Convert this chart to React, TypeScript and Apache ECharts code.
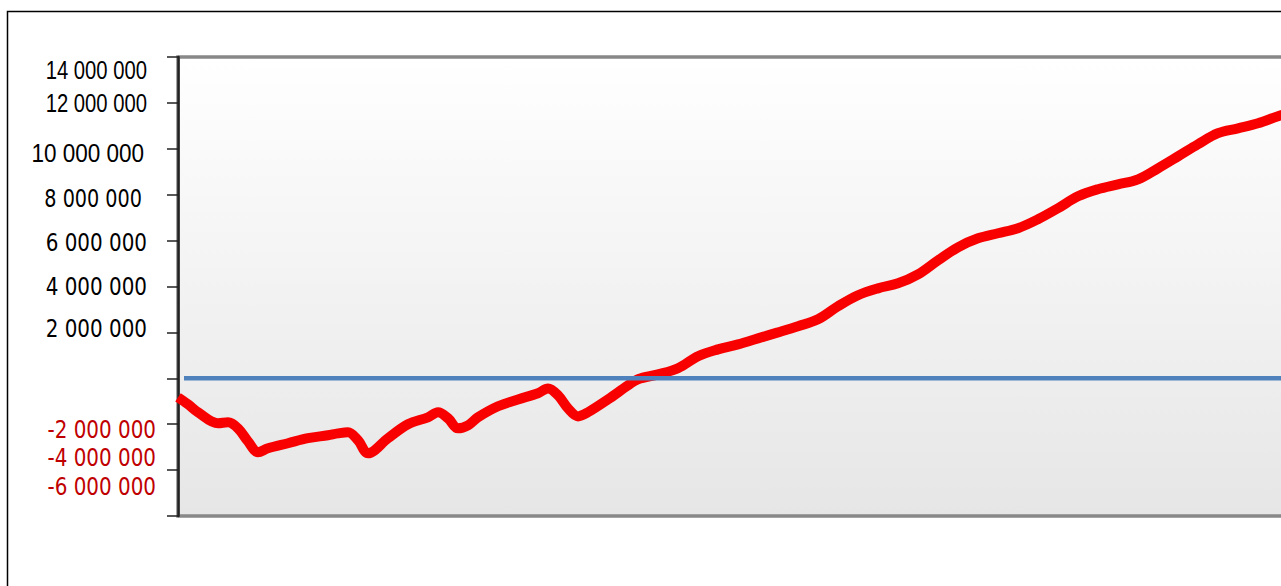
import React, { useEffect, useRef } from "react";
import * as echarts from "echarts";

// Period index (x) and cumulative balance (y)
const PERIODS = [
  0, 1, 2, 4, 5, 6, 7, 8, 9, 11, 13, 15, 16, 17, 18, 19, 21, 23, 25, 26, 27, 28, 29, 30,
  32, 34, 36, 37, 38, 39, 40, 41, 43, 45, 46, 48, 50, 52, 54, 56, 58, 60, 62, 64, 66, 68,
  70, 72, 74, 76, 78, 80, 82, 84, 86, 88, 90, 92, 94, 96, 98, 100, 102, 104, 106, 108, 110, 112,
];
const BALANCE = [
  -830000, -1130000, -1480000, -1960000, -1920000, -2180000, -2750000, -3220000, -3050000,
  -2830000, -2610000, -2480000, -2400000, -2350000, -2700000, -3270000, -2610000, -2000000,
  -1700000, -1480000, -1740000, -2180000, -2050000, -1700000, -1220000, -920000, -650000,
  -440000, -740000, -1310000, -1660000, -1480000, -920000, -310000, -40000, 170000, 440000,
  960000, 1260000, 1480000, 1740000, 2000000, 2270000, 2570000, 3140000, 3620000, 3920000,
  4140000, 4530000, 5140000, 5710000, 6100000, 6320000, 6540000, 6930000, 7410000, 7930000,
  8240000, 8450000, 8670000, 9150000, 9670000, 10200000, 10680000, 10890000, 11110000,
  11420000, 11680000,
];
const ZERO_PERIODS = [0.6, 112];
const ZERO_VALUES = [0, 0];
const TICK_VALUES = [
  14000000, 12000000, 10000000, 8000000, 6000000, 4000000, 2000000, -2000000, -4000000, -6000000,
];

// label styling (not data)
const ARIAL = "'Liberation Sans', Arial, sans-serif";
const DEJA = "'DejaVu Sans', sans-serif";
type LS = { font: string; size: number; sx: number; right: number; dy: number; color: string };
const LABEL_STYLE: Record<number, LS> = {
  14000000: { font: ARIAL, size: 25, sx: 0.81, right: 147, dy: 13, color: "#000" },
  12000000: { font: ARIAL, size: 25, sx: 0.81, right: 147, dy: 0, color: "#000" },
  10000000: { font: ARIAL, size: 25, sx: 0.9, right: 144, dy: 4, color: "#000" },
  8000000: { font: DEJA, size: 24, sx: 0.8, right: 142, dy: 4, color: "#000" },
  6000000: { font: DEJA, size: 24, sx: 0.83, right: 147, dy: 2, color: "#000" },
  4000000: { font: DEJA, size: 24, sx: 0.83, right: 147, dy: 0, color: "#000" },
  2000000: { font: DEJA, size: 24, sx: 0.83, right: 147, dy: -4, color: "#000" },
  [-2000000]: { font: DEJA, size: 24, sx: 0.83, right: 156, dy: 6, color: "#c00000" },
  [-4000000]: { font: DEJA, size: 24, sx: 0.83, right: 156, dy: -12, color: "#c00000" },
  [-6000000]: { font: DEJA, size: 24, sx: 0.83, right: 156, dy: -29, color: "#c00000" },
};

const fmt = (v: number) =>
  (v < 0 ? "-" : "") + Math.abs(v).toString().replace(/\B(?=(\d{3})+(?!\d))/g, " ");

export default function App() {
  const ref = useRef<HTMLDivElement>(null);
  useEffect(() => {
    if (!ref.current) return;
    const chart = echarts.init(ref.current, null, { renderer: "svg" });
    chart.setOption({
      animation: false,
      grid: {
        left: 178,
        top: 57,
        right: 2,
        bottom: 70,
        show: true,
        backgroundColor: new echarts.graphic.LinearGradient(0, 0, 0, 1, [
          { offset: 0, color: "#ffffff" },
          { offset: 1, color: "#e6e6e6" },
        ]),
        borderColor: "#888888",
        borderWidth: 3.5,
      },
      xAxis: { type: "value", min: 0, max: 112, show: false },
      yAxis: {
        type: "value",
        min: -6000000,
        max: 14000000,
        interval: 2000000,
        axisLine: { show: true, lineStyle: { color: "#222", width: 2.5 } },
        axisTick: { show: true, length: 11, lineStyle: { color: "#222", width: 1.5 } },
        axisLabel: { show: false },
        splitLine: { show: false },
      },
      series: [
        {
          name: "Balance",
          type: "line",
          data: PERIODS.map((p, i) => [p, BALANCE[i]]),
          smooth: 0.35,
          symbol: "none",
          lineStyle: { color: "#f80000", width: 10 },
          z: 2,
        },
        {
          name: "Zero",
          type: "line",
          data: ZERO_PERIODS.map((p, i) => [p, ZERO_VALUES[i]]),
          symbol: "none",
          lineStyle: { color: "#4f81bd", width: 4.5 },
          z: 3,
        },
      ],
    });
    const texts = TICK_VALUES.map((v) => {
      const st = LABEL_STYLE[v];
      const y = chart.convertToPixel({ yAxisIndex: 0 }, v) as number;
      return {
        type: "text",
        x: st.right,
        y: y + st.dy,
        scaleX: st.sx,
        style: {
          text: fmt(v),
          fill: st.color,
          font: `${st.size}px ${st.font}`,
          align: "right",
          verticalAlign: "middle",
        },
      };
    });
    chart.setOption({
      graphic: [
        {
          type: "rect",
          shape: { x: 7.5, y: 11.5, width: 1400, height: 700 },
          style: { fill: "none", stroke: "#000", lineWidth: 1.5 },
          silent: true,
        },
        ...texts,
      ],
    });
    return () => chart.dispose();
  }, []);
  return (
    <div style={{ position: "absolute", left: 0, top: 0, width: 1281, height: 586, overflow: "hidden", background: "#fff" }}>
      <div ref={ref} style={{ width: 1300, height: 586 }} />
    </div>
  );
}
